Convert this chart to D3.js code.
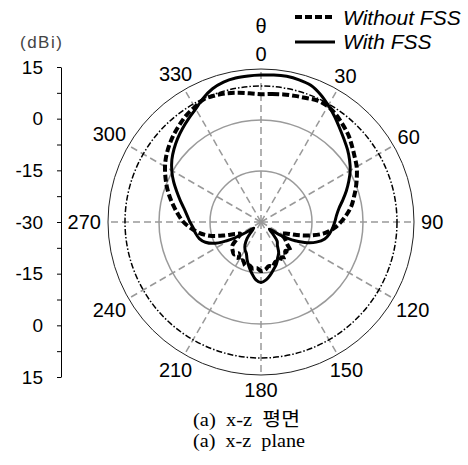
<!DOCTYPE html>
<html>
<head>
<meta charset="utf-8">
<script src="https://cdn.jsdelivr.net/npm/d3@7"></script>
<style>
  body { margin: 0; background: #fff; }
  text { font-family: "Liberation Sans", Arial, sans-serif; }
</style>
</head>
<body>
<div id="chart"></div>
<script>
// angle theta (deg, clockwise from top) and gain (dBi)
var angles = [0, 5, 10, 15, 20, 25, 30, 35, 40, 45, 50, 55, 60, 65, 70, 75, 80, 85,
    90, 95, 100, 105, 110, 115, 120, 125, 130, 135, 140, 145, 150, 155, 160, 165, 170, 175,
    180, 185, 190, 195, 200, 205, 210, 215, 220, 225, 230, 235, 240, 245, 250, 255, 260, 265,
    270, 275, 280, 285, 290, 295, 300, 305, 310, 315, 320, 325, 330, 335, 340, 345, 350, 355];

var withoutFSS = [7.6, 7.8, 8.1, 8.4, 8.8, 9.4, 9.3, 8.5, 7.4, 6.3, 4.9, 3.6, 2.5, 1.1, -0.3, -1.7, -3.0, -4.7,
    -6.5, -8.5, -11.0, -14.8, -18.8, -22.0, -23.0, -21.4, -20.0, -17.8, -18.9, -17.4, -18.0, -17.1, -17.6, -16.5, -16.8, -15.9,
    -15.6, -16.4, -16.1, -16.8, -16.4, -17.5, -17.0, -18.7, -17.6, -18.2, -18.9, -21.4, -23.0, -21.6, -18.4, -14.4, -11.5, -9.3,
    -7.2, -5.6, -4.0, -2.3, -0.6, 1.0, 2.6, 4.0, 5.2, 6.3, 7.3, 8.3, 9.0, 9.8, 9.6, 9.2, 8.6, 8.0];

var withFSS = [13.2, 13.4, 13.5, 13.3, 12.8, 11.4, 9.6, 7.8, 6.0, 4.5, 3.2, 1.8, 0.3, -1.5, -3.3, -5.1, -6.7, -7.7,
    -8.3, -8.9, -9.6, -10.6, -12.7, -15.8, -19.5, -23.8, -26.8, -25.2, -22.6, -21.6, -19.6, -18.4, -16.8, -15.6, -14.2, -12.9,
    -12.2, -12.9, -14.6, -16.4, -18.1, -19.8, -20.6, -21.8, -23.6, -26.0, -27.2, -24.6, -19.8, -15.2, -12.6, -11.2, -10.5, -10.0,
    -9.1, -8.2, -7.0, -5.4, -3.6, -1.6, 0.3, 2.0, 3.4, 4.7, 5.9, 7.1, 8.4, 10.2, 11.7, 12.6, 13.0, 13.1];

var spokeAngles = [0, 30, 60, 90, 120, 150, 180, 210, 240, 270, 300, 330];
var ringLevels = [-15, 0];   // grey rings
var refLevel = 10;           // dash-dot reference ring
var outerLevel = 15;         // outer ring

// y axis runs through the whole diameter: 15 .. -30 .. 15
var yTickValues = [45, 37.5, 30, 22.5, 15, 7.5, 0, -7.5, -15, -22.5, -30, -37.5, -45];
var yTickLabels = ["15", "", "0", "", "-15", "", "-30", "", "-15", "", "0", "", "15"];

var seriesNames = ["Without FSS", "With FSS"];
var captionLines = ["(a)  x-z  평면", "(a)  x-z  plane"];

// set the dimensions
var width = 468, height = 465,
    cx = 261, cy = 222;

var svg = d3.select("#chart")
    .append("svg")
    .attr("width", width)
    .attr("height", height);

svg.append("rect").attr("width", width).attr("height", height).attr("fill", "#fff");

var r = d3.scaleLinear().domain([-30, 15]).range([0, 153]);
var rad = function (d) { return d * Math.PI / 180; };

var g = svg.append("g").attr("transform", "translate(" + cx + "," + cy + ")");

// grey rings
g.selectAll(".ring")
    .data(ringLevels)
    .enter().append("circle")
    .attr("r", function (d) { return r(d); })
    .attr("fill", "none")
    .attr("stroke", "#9a9a9a")
    .attr("stroke-width", 1.5);

// spokes
g.selectAll(".spoke")
    .data(spokeAngles)
    .enter().append("line")
    .attr("x1", 0).attr("y1", 0)
    .attr("x2", function (d) { return r(outerLevel) * Math.sin(rad(d)); })
    .attr("y2", function (d) { return -r(outerLevel) * Math.cos(rad(d)); })
    .attr("stroke", "#999")
    .attr("stroke-width", 1.5)
    .attr("stroke-dasharray", "7,4");

// outer ring
g.append("circle")
    .attr("r", r(outerLevel))
    .attr("fill", "none")
    .attr("stroke", "#222")
    .attr("stroke-width", 1);

// dash-dot reference ring
g.append("circle")
    .attr("r", r(refLevel))
    .attr("fill", "none")
    .attr("stroke", "#000")
    .attr("stroke-width", 1.5)
    .attr("stroke-dasharray", "6,2,1.5,2");

// the two patterns
var line = d3.lineRadial()
    .angle(function (d) { return rad(d[0]); })
    .radius(function (d) { return r(d[1]); })
    .curve(d3.curveCatmullRomClosed.alpha(0.5));

g.append("path")
    .datum(angles.map(function (a, i) { return [a, withoutFSS[i]]; }))
    .attr("d", line)
    .attr("fill", "none")
    .attr("stroke", "#000")
    .attr("stroke-width", 4)
    .attr("stroke-dasharray", "7,3");

g.append("path")
    .datum(angles.map(function (a, i) { return [a, withFSS[i]]; }))
    .attr("d", line)
    .attr("fill", "none")
    .attr("stroke", "#000")
    .attr("stroke-width", 3);

// angle labels, pushed out so the box just clears the ring
g.selectAll(".alabel")
    .data(spokeAngles)
    .enter().append("text")
    .attr("text-anchor", "middle")
    .style("font-size", "20px")
    .attr("x", function (d) {
        var hw = String(d).length * 5.6, hh = 8;
        var s = Math.sin(rad(d)), c = Math.cos(rad(d));
        var rr = 160 + Math.sqrt(hw * s * hw * s + hh * c * hh * c);
        return rr * s;
    })
    .attr("y", function (d) {
        var hw = String(d).length * 5.6, hh = 8;
        var s = Math.sin(rad(d)), c = Math.cos(rad(d));
        var rr = 160 + Math.sqrt(hw * s * hw * s + hh * c * hh * c);
        return -rr * c + 7;
    })
    .text(function (d) { return d; });

svg.append("text")
    .attr("x", cx).attr("y", 33)
    .attr("text-anchor", "middle")
    .style("font-size", "20px")
    .text("θ");

// Y axis
var y = d3.scaleLinear().domain([45, -45]).range([cy - 155, cy + 155]);
svg.append("g")
    .attr("transform", "translate(61,0)")
    .call(d3.axisLeft(y)
        .tickValues(yTickValues)
        .tickFormat(function (d, i) { return yTickLabels[i]; })
        .tickSize(4)
        .tickSizeOuter(0)
        .tickPadding(14))
    .call(function (a) {
        a.selectAll("text").style("font-size", "19px").style("font-family", "'Liberation Sans', Arial, sans-serif").attr("fill", "#000");
        a.selectAll("line").attr("stroke", "#000");
        a.select(".domain").attr("stroke", "#000");
    });

svg.append("text")
    .attr("x", 20).attr("y", 48)
    .style("font-size", "17px")
    .style("letter-spacing", "1.5px")
    .attr("fill", "#444")
    .text("(dBi)");

// legend
var legend = svg.append("g");
legend.selectAll("line")
    .data(seriesNames)
    .enter().append("line")
    .attr("x1", 295).attr("x2", 335)
    .attr("y1", function (d, i) { return 17 + i * 25; })
    .attr("y2", function (d, i) { return 17 + i * 25; })
    .attr("stroke", "#000")
    .attr("stroke-width", function (d, i) { return i === 0 ? 4 : 3; })
    .attr("stroke-dasharray", function (d, i) { return i === 0 ? "7,3" : null; });
legend.selectAll("text")
    .data(seriesNames)
    .enter().append("text")
    .attr("x", 343)
    .attr("y", function (d, i) { return 25 + i * 24; })
    .style("font-size", "21px")
    .style("font-style", "italic")
    .text(function (d) { return d; });

// caption
svg.selectAll(".cap")
    .data(captionLines)
    .enter().append("text")
    .attr("x", 193)
    .attr("y", function (d, i) { return 426 + i * 21; })
    .attr("textLength", function (d, i) { return i === 0 ? 107 : 112; })
    .attr("lengthAdjust", "spacingAndGlyphs")
    .style("white-space", "pre")
    .style("font-family", "'Liberation Serif', 'Times New Roman', 'Noto Sans CJK KR', serif")
    .style("font-size", "19px")
    .text(function (d) { return d; });
</script>
</body>
</html>
